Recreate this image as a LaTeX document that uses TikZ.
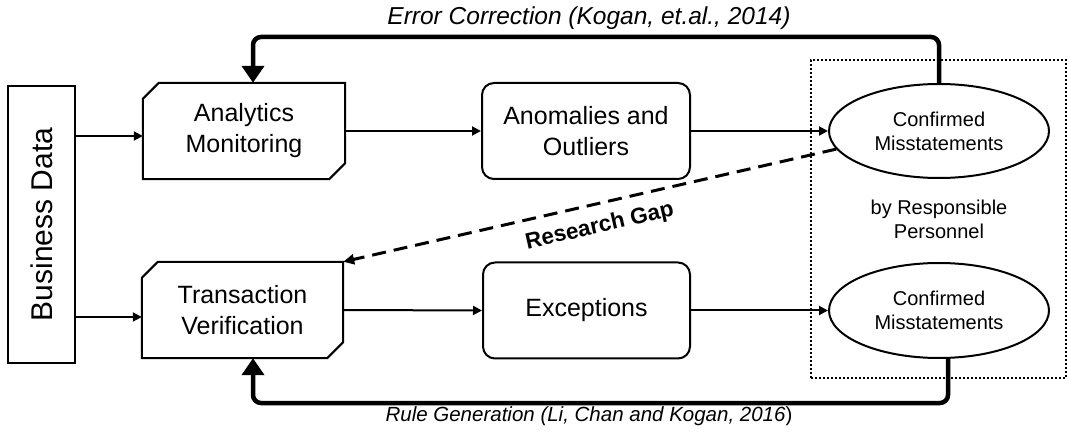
\documentclass[tikz,border=0pt]{standalone}
\usepackage{fontspec}
\setmainfont{Liberation Sans}
\usetikzlibrary{arrows.meta,shapes.geometric}

\begin{document}
\begin{tikzpicture}[x=1pt,y=-1pt,
  boxline/.style={line width=2pt, line join=miter},
  plainnode/.style={align=center, inner sep=0pt, font=\fontsize{25}{31}\selectfont},
  cutnode/.style={plainnode, minimum width=201pt, minimum height=96pt},
  roundbox/.style={plainnode, draw, boxline, rounded corners=12pt, minimum height=96pt, minimum width=207pt},
  oval/.style={ellipse, draw, line width=2pt, inner sep=0pt, align=center,
    minimum width=220pt, minimum height=94pt, font=\fontsize{20}{24}\selectfont},
  flow/.style={line width=2pt, -{Triangle[length=9pt,width=9pt]}},
  feedback/.style={line width=4.5pt, rounded corners=8pt, -{Triangle[length=17pt,width=22pt]}},
  gap/.style={line width=3pt, dash pattern=on 14pt off 8pt, -{Triangle[length=11pt,width=10pt]}},
  ref/.style={inner sep=0pt},
]
\useasboundingbox (0,0) rectangle (1068,435);

% source of the two paths
\node[draw, boxline, minimum width=67pt, minimum height=277pt, inner sep=0pt] (bd) at (41.5,224.5) {};
\node[rotate=90, font=\fontsize{30}{36}\selectfont] at (bd.center) {Business Data};

% the two monitoring steps, with chamfered corners
\node[cutnode, minimum width=202pt] (am) at (244,131) {Analytics\\Monitoring};
\draw[boxline] ([xshift=16pt]am.north west) -- (am.north east) -- ([yshift=16pt]am.south east)
  -- ([xshift=-16pt]am.south east) -- (am.south west) -- ([yshift=-16pt]am.north west) -- cycle;

\node[cutnode] (tv) at (242.5,310) {Transaction\\Verification};
\draw[boxline] ([xshift=16pt]tv.north west) -- (tv.north east) -- ([yshift=16pt]tv.south east)
  -- ([xshift=-16pt]tv.south east) -- (tv.south west) -- ([yshift=-16pt]tv.north west) -- cycle;

% findings
\node[roundbox, minimum width=208pt] (an) at (586,131) {Anomalies and\\Outliers};
\node[roundbox] (ex) at (586.5,310.5) {Exceptions};

% confirmation area
\node[draw, line width=2pt, dash pattern=on 2pt off 2pt, minimum width=255pt, minimum height=318pt, inner sep=0pt] (area) at (938.5,219) {};
\node[oval] (c1) at (939,131) {Confirmed\\Misstatements};
\node[oval, minimum height=95pt] (c2) at (939,310.5) {Confirmed\\Misstatements};
\node[align=center, font=\fontsize{20}{24}\selectfont, inner sep=0pt] (rp) at (939,219) {by Responsible\\Personnel};

% main flow
\draw[flow] (bd.east |- 0,136) -- (am.west |- 0,136);
\draw[flow] (bd.east |- 0,317) -- (tv.west |- 0,317);
\draw[flow] (am.east) -- (an.west);
\draw[flow] (an.east) -- (c1.west);
\draw[flow] (tv.east) -- (ex.west);
\draw[flow] (ex.east) -- (c2.west);

% feedback loops
\coordinate (toprail) at (0,37);
\coordinate (botrail) at (0,403);
\draw[feedback] (c1.north) -- (c1.north |- toprail) -- ([xshift=9pt]am.north |- toprail) -- ([xshift=9pt]am.north);
\draw[feedback] ([xshift=9pt]c2.south) -- ([xshift=9pt]c2.south |- botrail) -- ([xshift=10.5pt]tv.south |- botrail) -- ([xshift=10.5pt]tv.south);

\node[ref, font=\fontsize{24.5}{28}\selectfont\itshape] (ec) at (589,18) {Error Correction (Kogan, et.al., 2014)};
\node[ref, font=\fontsize{20.5}{24}\selectfont] (rg) at (589,416) {\itshape Rule Generation (Li, Chan and Kogan, 2016\upshape)};

% link that is still missing
\draw[gap] (c1.190) -- node[sloped, below=11pt, pos=0.49, inner sep=0pt, font=\fontsize{22.5}{26}\selectfont\bfseries] {Research Gap} (tv.north east);
\end{tikzpicture}
\end{document}
